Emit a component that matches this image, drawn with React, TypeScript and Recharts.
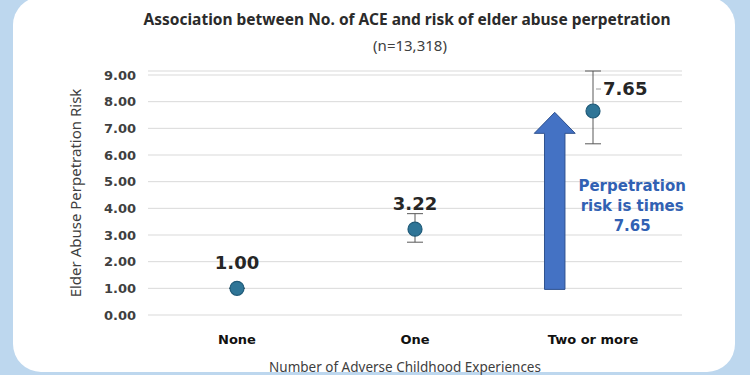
import React from "react";
import {
  ScatterChart,
  Scatter,
  XAxis,
  YAxis,
  CartesianGrid,
  ErrorBar,
  ReferenceArea,
  ReferenceDot,
} from "recharts";

const categories = ["None", "One", "Two or more"];
const riskValues = [1.0, 3.22, 7.65];
const ciLower = [1.0, 2.73, 6.42];
const ciUpper = [1.0, 3.8, 9.15];
const yTicks = [0, 1, 2, 3, 4, 5, 6, 7, 8, 9];

// arrow annotation (data coords) and the callout text
const arrowX = [1.67, 1.9];
const arrowY = [0.96, 7.6];
const noteLines = ["Perpetration", "risk is times", "7.65"];
const notePos = { x: 2.22, y: 4.83 };

const data = riskValues.map((v, i) => ({
  x: i,
  y: v,
  err: [v - ciLower[i], ciUpper[i] - v],
}));

const BLUE_BG = "#bdd7ee";
const FONT = "'Noto Sans', 'DejaVu Sans', sans-serif";
const BOLD = "'DejaVu Sans', Verdana, sans-serif";

function Dot(props: any) {
  const { cx, cy, payload, index } = props;
  const i = payload?.x ?? index;
  const label = riskValues[i].toFixed(2);
  const right = i === riskValues.length - 1;
  return (
    <g>
      <circle cx={cx} cy={cy} r={7} fill="#2f7597" stroke="#1f5a78" strokeWidth={1.2} />
      {right ? (
        <g>
          <line x1={cx + 3} y1={cy - 22} x2={cx + 8} y2={cy - 22} stroke="#9a9a9a" strokeWidth={1} />
          <text x={cx + 10} y={cy - 22} dy="0.35em" fontFamily={BOLD} fontWeight="bold" fontSize={18} fill="#262626">
            {label}
          </text>
        </g>
      ) : (
        <text x={cx} y={cy - 19} textAnchor="middle" fontFamily={BOLD} fontWeight="bold" fontSize={18} fill="#262626">
          {label}
        </text>
      )}
    </g>
  );
}

function Arrow(props: any) {
  const { x, y, width, height } = props;
  const cx = x + width / 2;
  const shaft = width / 2;
  const head = 21;
  const pts = [
    [cx, y],
    [x + width, y + head],
    [cx + shaft / 2, y + head],
    [cx + shaft / 2, y + height],
    [cx - shaft / 2, y + height],
    [cx - shaft / 2, y + head],
    [x, y + head],
  ]
    .map((p) => p.join(","))
    .join(" ");
  return <polygon points={pts} fill="#4472c4" stroke="#2f528f" strokeWidth={1} />;
}

function Note(props: any) {
  const { cx, cy } = props;
  return (
    <text x={cx} y={cy} textAnchor="middle" fontFamily={BOLD} fontWeight="bold" fontSize={15} fill="#3161b3">
      {noteLines.map((t, i) => (
        <tspan key={t} x={cx} dy={i === 0 ? "0.35em" : 20}>
          {t}
        </tspan>
      ))}
    </text>
  );
}

function YLabel(props: any) {
  const { viewBox } = props;
  const cy = viewBox.y + viewBox.height / 2;
  const cx = 75;
  return (
    <text
      x={cx}
      y={cy}
      transform={`rotate(-90 ${cx} ${cy})`}
      textAnchor="middle"
      dominantBaseline="central"
      fontFamily={FONT}
      fontSize={15}
      fill="#404040"
    >
      Elder Abuse Perpetration Risk
    </text>
  );
}

function XLabel(props: any) {
  const { viewBox } = props;
  const cx = viewBox.x + viewBox.width / 2 - 10;
  return (
    <text x={cx} y={367} textAnchor="middle" dominantBaseline="central" fontFamily={FONT} fontSize={13.5} fill="#404040">
      Number of Adverse Childhood Experiences
    </text>
  );
}

export default function App() {
  return (
    <div
      style={{
        position: "absolute",
        left: 0,
        top: 0,
        width: 750,
        height: 375,
        background: BLUE_BG,
        overflow: "hidden",
        fontFamily: FONT,
      }}
    >
      <div
        style={{
          position: "absolute",
          left: 13,
          top: -3,
          width: 722,
          height: 375,
          borderRadius: 28,
          background: "#fff",
        }}
      />
      <div
        style={{
          position: "absolute",
          left: 0,
          top: 8,
          width: 814,
          textAlign: "center",
          fontSize: 15.5,
          fontWeight: "bold",
          color: "#2b2b2b",
        }}
      >
        Association between No. of ACE and risk of elder abuse perpetration
      </div>
      <div
        style={{
          position: "absolute",
          left: 0,
          top: 35,
          width: 820,
          textAlign: "center",
          fontSize: 15,
          color: "#404040",
        }}
      >
        (n=13,318)
      </div>
      <div style={{ position: "absolute", left: 0, top: 0 }}>
        <ScatterChart width={750} height={375} margin={{ top: 71, right: 68, left: 0, bottom: 0 }}>
          <CartesianGrid vertical={false} stroke="#d9d9d9" />
          <XAxis
            type="number"
            dataKey="x"
            domain={[-0.5, 2.5]}
            ticks={[0, 1, 2]}
            tickFormatter={(v: number) => categories[v] ?? ""}
            axisLine={false}
            tickLine={false}
            tickSize={0}
            tickMargin={20}
            height={60}
            tick={{ fontFamily: BOLD, fontWeight: "bold", fontSize: 13, fill: "#111" }}
            label={{ content: XLabel }}
          />
          <YAxis
            type="number"
            dataKey="y"
            domain={[0, 9]}
            ticks={yTicks}
            tickFormatter={(v: number) => v.toFixed(2)}
            axisLine={false}
            tickLine={false}
            tickSize={0}
            tickMargin={12}
            width={148}
            tick={{ fontFamily: BOLD, fontWeight: "bold", fontSize: 13, fill: "#404040" }}
            label={{ content: YLabel }}
          />
          <ReferenceArea
            x1={arrowX[0]}
            x2={arrowX[1]}
            y1={arrowY[0]}
            y2={arrowY[1]}
            shape={Arrow}
          />
          <ReferenceDot x={notePos.x} y={notePos.y} r={0} shape={Note} />
          <Scatter data={data} shape={Dot} isAnimationActive={false}>
            <ErrorBar dataKey="err" direction="y" width={8} stroke="#595959" strokeWidth={1} />
          </Scatter>
        </ScatterChart>
      </div>
    </div>
  );
}
